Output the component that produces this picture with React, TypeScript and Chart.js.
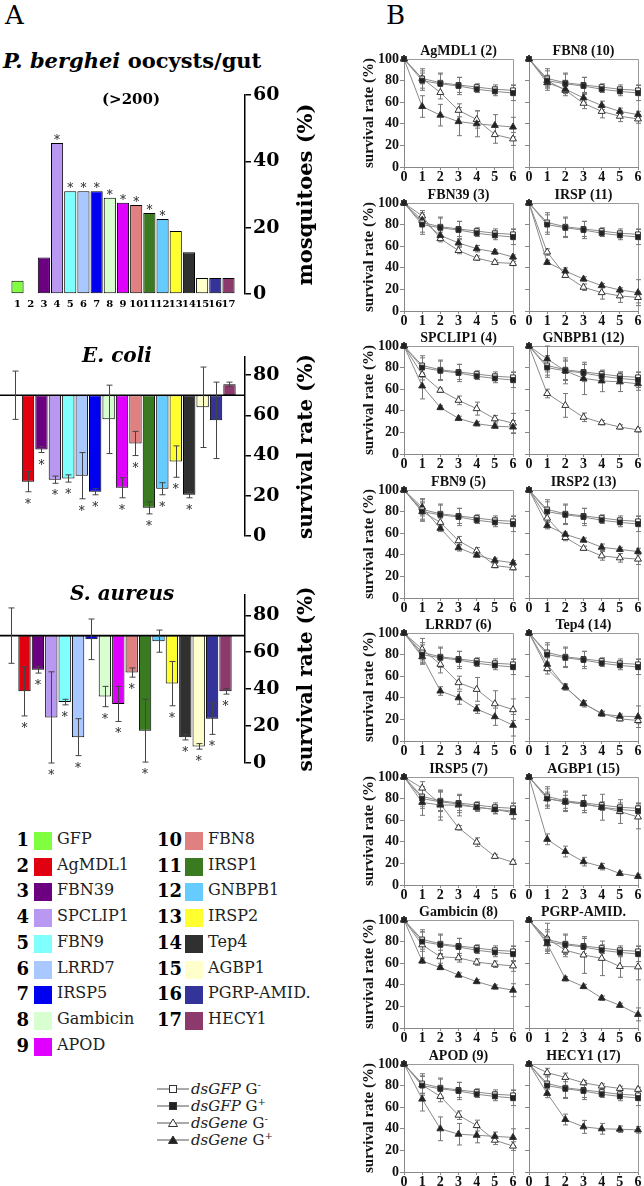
import React, { useEffect, useRef } from "react";
import { Chart, registerables } from "chart.js";

Chart.register(...registerables);

const WIDE = "'DejaVu Serif', serif";
const NARROW = "'Liberation Serif', 'Times New Roman', serif";

// ---------------- Panel A data ----------------
const GENE_NUMBERS = ["1", "2", "3", "4", "5", "6", "7", "8", "9", "10", "11", "12", "13", "14", "15", "16", "17"];
const GENE_NAMES = ["GFP", "AgMDL1", "FBN39", "SPCLIP1", "FBN9", "LRRD7", "IRSP5", "Gambicin", "APOD", "FBN8", "IRSP1", "GNBPB1", "IRSP2", "Tep4", "AGBP1", "PGRP-AMID.", "HECY1"];
const GENE_COLORS = ["#80ff40", "#e00010", "#6b0080", "#b898f0", "#80ffff", "#a8c8ff", "#0000f0", "#d8ffd0", "#e000ff", "#e08080", "#3a7a20", "#66ccff", "#ffff30", "#303030", "#ffffcc", "#333399", "#8b3a6b"];

const OOCYST_VALUES = [4, 0, 11, 45.5, 31, 31, 31, 29, 27.5, 26.8, 24.4, 22.6, 19, 12.6, 4.8, 4.8, 4.8];
const OOCYST_STARS = [4, 5, 6, 7, 8, 9, 10, 11, 12];
const OOCYST_TICKS = [0, 20, 40, 60];

const ECOLI_BASE = 70;
const ECOLI_VALUES = [70, 27, 43, 28, 28.6, 30, 22, 58, 24, 46, 14, 23.5, 37, 20.5, 64, 57.5, 75.5];
const ECOLI_ERRORS = [12, 5, 1.5, 1.8, 1.8, 11.5, 1.5, 17, 5, 6, 3, 3, 7.8, 1.5, 20, 19, 1];
const ECOLI_STARS = [2, 3, 4, 5, 6, 7, 9, 10, 11, 12, 13, 14];

const SAUREUS_BASE = 69;
const SAUREUS_VALUES = [69, 38.8, 50.5, 24.7, 33, 14, 67, 36, 32, 49, 17.5, 66, 43, 14, 9, 24, 38.8];
const SAUREUS_ERRORS = [15, 13.3, 1.8, 24.7, 1.5, 10, 11, 5.5, 9.5, 2.5, 17, 6, 12, 1.5, 1.5, 8.5, 1.5];
const SAUREUS_STARS = [2, 3, 4, 5, 6, 8, 9, 10, 11, 13, 14, 15, 16, 17];

const SURVIVAL_TICKS = [0, 20, 40, 60, 80];

// ---------------- Panel B data ----------------
const DAYS = [0, 1, 2, 3, 4, 5, 6];
const PERCENT_TICKS = [0, 20, 40, 60, 80, 100];
const SERIES_NAMES = ["dsGFP", "dsGFP", "dsGene", "dsGene"];
const SERIES_SIGNS = ["-", "+", "-", "+"];

const GFP_GNEG = [100, 82, 78, 76, 74, 72, 71];
const GFP_GNEG_ERR = [0, 9, 9, 7, 3, 4, 5];
const GFP_GPOS = [100, 80, 77, 75, 72, 70, 68.5];
const GFP_GPOS_ERR = [0, 9, 9, 8, 3, 4, 7];

const PANEL_TITLES = ["AgMDL1 (2)", "FBN8 (10)", "FBN39 (3)", "IRSP (11)", "SPCLIP1 (4)", "GNBPB1 (12)", "FBN9 (5)", "IRSP2 (13)", "LRRD7 (6)", "Tep4 (14)", "IRSP5 (7)", "AGBP1 (15)", "Gambicin (8)", "PGRP-AMID.", "APOD (9)", "HECY1 (17)"];

const GENE_GNEG = [
  [100, 82, 69, 52.5, 44, 30, 26],
  [100, 80, 71, 59, 51.5, 47, 44.5],
  [100, 88, 67, 56, 49, 45, 44],
  [100, 54.6, 33, 22, 17, 14, 12.5],
  [100, 73.6, 59, 49.7, 42, 32.6, 28.6],
  [100, 56, 45, 34, 29, 25, 22.4],
  [100, 80, 70, 53, 43.7, 30, 28],
  [100, 74, 56, 46, 39, 37.2, 36],
  [100, 85, 71, 54, 47.8, 34.5, 29],
  [100, 67, 50, 34.5, 25.7, 20.5, 19],
  [100, 89.7, 75, 53, 39.7, 26.5, 21],
  [100, 80, 77, 75, 72, 68, 63],
  [100, 77, 66, 65, 61, 59, 57.5],
  [100, 83, 72, 67.6, 64.5, 57, 56.6],
  [100, 80.5, 70, 52.6, 43, 29.4, 24],
  [100, 92, 87.6, 82.6, 79.6, 77.4, 76.5],
];
const GENE_GNEG_ERR = [
  [0, 5, 6, 6, 8, 8, 6],
  [0, 5, 5, 5, 6, 5, 4],
  [0, 5, 3, 3, 2, 2, 2],
  [0, 3, 2, 3, 6, 6, 5],
  [0, 5, 2, 4, 6, 3, 9],
  [0, 4, 11, 4, 2, 2, 2],
  [0, 8, 4, 4, 3, 2, 2],
  [0, 6, 3, 2, 4, 4, 5],
  [0, 10, 8, 6, 11, 12, 10],
  [0, 5, 3, 3, 2, 2, 3],
  [0, 6, 12, 2, 4, 2, 2],
  [0, 6, 6, 8, 12, 11, 11],
  [0, 12, 6, 4, 3, 3, 5],
  [0, 14, 6, 17, 16, 10, 12],
  [0, 8, 5, 4, 5, 4, 4],
  [0, 4, 4, 2, 2, 2, 2],
];
const GENE_GPOS = [
  [100, 56, 48, 42, 40, 38.5, 37],
  [100, 78, 72, 64, 57, 51.5, 48.5],
  [100, 84, 70, 63, 57.7, 54.6, 50],
  [100, 45, 37, 29.6, 23.5, 19.5, 17],
  [100, 63, 43, 33, 28, 25.8, 25],
  [100, 88, 77, 70, 67.7, 66.8, 65],
  [100, 84, 64.5, 46.5, 39.7, 35, 32.6],
  [100, 67, 59, 53.6, 47, 45, 43],
  [100, 78, 46.3, 40, 29.6, 22.5, 14.6],
  [100, 71, 50, 35, 25, 23, 22.5],
  [100, 76.5, 74, 74, 72, 70, 67],
  [100, 42.3, 31, 21.6, 17, 10.7, 8],
  [100, 62, 56, 49, 43, 38, 35],
  [100, 78, 45.6, 38.4, 27.7, 21, 12.6],
  [100, 67.5, 40, 35, 34, 33, 32],
  [100, 72.8, 48.6, 41.8, 40, 39.6, 39],
];
const GENE_GPOS_ERR = [
  [0, 10, 10, 13, 12, 10, 9],
  [0, 4, 4, 4, 4, 3, 3],
  [0, 5, 3, 3, 3, 2, 2],
  [0, 2, 3, 2, 2, 2, 12],
  [0, 12, 2, 2, 2, 2, 6],
  [0, 12, 12, 15, 10, 9, 6],
  [0, 8, 3, 3, 2, 2, 2],
  [0, 3, 2, 2, 3, 2, 3],
  [0, 6, 4, 6, 4, 8, 10],
  [0, 6, 2, 2, 2, 2, 10],
  [0, 12, 14, 10, 4, 4, 6],
  [0, 5, 5, 4, 3, 2, 2],
  [0, 2, 2, 2, 2, 2, 6],
  [0, 6, 2, 2, 2, 2, 6],
  [0, 11, 11, 10, 7, 4, 8],
  [0, 4, 5, 6, 5, 3, 3],
];

// ---------------- generic canvas ----------------
function CanvasChart(props: { left: number; top: number; width: number; height: number; config: () => any }) {
  const ref = useRef<HTMLCanvasElement | null>(null);
  useEffect(() => {
    if (!ref.current) return;
    const chart = new Chart(ref.current, props.config());
    return () => chart.destroy();
  }, []);
  const { left, top, width, height } = props;
  return (
    <canvas
      ref={ref}
      width={width}
      height={height}
      style={{ position: "absolute", left, top, width, height }}
    />
  );
}

type BarSpec = {
  values: number[];
  base: number;
  errors: number[] | null;
  stars: number[];
  yMax: number;
  yTicks: number[];
  xMin: number;
  xMax: number;
  showX: boolean;
  padTop: number;
  padBottom: number;
  axisTitle: string;
  titleSize: number;
  baseline: boolean;
};

function makeBarConfig(spec: BarSpec) {
  const { values, base, errors, stars, yMax, yTicks, xMin, xMax, showX, padTop, padBottom, axisTitle, titleSize, baseline } = spec;
  const extras = {
    id: "barExtras",
    afterDatasetsDraw(chart: any) {
      const { ctx, chartArea, scales } = chart;
      const x = scales.x;
      const y = scales.y;
      ctx.save();
      if (baseline) {
        const by = y.getPixelForValue(base);
        ctx.strokeStyle = "#000";
        ctx.lineWidth = 1.6;
        ctx.beginPath();
        ctx.moveTo(chartArea.left, by);
        ctx.lineTo(chartArea.right, by);
        ctx.stroke();
      }
      if (errors) {
        ctx.strokeStyle = "#444";
        ctx.lineWidth = 1;
        values.forEach((v, i) => {
          const e = errors[i];
          if (!e) return;
          const px = Math.round(x.getPixelForValue(i + 1)) + 0.5;
          const y1 = y.getPixelForValue(v + e);
          const y2 = y.getPixelForValue(Math.max(0, v - e));
          ctx.beginPath();
          ctx.moveTo(px, y1);
          ctx.lineTo(px, y2);
          ctx.moveTo(px - 3, y1);
          ctx.lineTo(px + 3, y1);
          ctx.moveTo(px - 3, y2);
          ctx.lineTo(px + 3, y2);
          ctx.stroke();
        });
      }
      ctx.fillStyle = "#222";
      ctx.font = `12px ${WIDE}`;
      ctx.textAlign = "center";
      ctx.textBaseline = "alphabetic";
      stars.forEach((n) => {
        const i = n - 1;
        const v = values[i];
        const px = x.getPixelForValue(n);
        const yy = errors ? y.getPixelForValue(Math.max(0, v - errors[i])) + 16 : y.getPixelForValue(v) + 1;
        ctx.fillText("*", px, yy);
      });
      ctx.translate(chartArea.right + 62, (chartArea.top + chartArea.bottom) / 2);
      ctx.rotate(-Math.PI / 2);
      ctx.font = `bold ${titleSize}px ${WIDE}`;
      ctx.fillStyle = "#000";
      ctx.textBaseline = "middle";
      ctx.fillText(axisTitle, 0, 0);
      ctx.restore();
    },
  };
  return {
    type: "bar",
    data: {
      datasets: [
        {
          data: values.map((v, i) => ({ x: i + 1, y: [base, v] })),
          backgroundColor: GENE_COLORS,
          borderColor: "#000",
          borderWidth: 1,
          borderSkipped: false,
          barPercentage: 0.92,
          categoryPercentage: 1,
        },
      ],
    },
    options: {
      animation: false,
      responsive: false,
      events: [],
      layout: { padding: { top: padTop, bottom: padBottom, left: 0, right: 0 } },
      plugins: { legend: { display: false }, tooltip: { enabled: false } },
      scales: {
        x: {
          type: "linear",
          min: xMin,
          max: xMax,
          offset: false,
          display: showX,
          grid: { display: false, offset: false, drawTicks: false },
          border: { display: false },
          afterBuildTicks: (s: any) => {
            s.ticks = GENE_NUMBERS.map((_, i) => ({ value: i + 1 }));
          },
          afterFit: (s: any) => {
            s.height = 20;
          },
          ticks: {
            autoSkip: false,
            maxRotation: 0,
            padding: 4,
            color: "#000",
            font: { family: WIDE, size: 10, weight: "bold" },
            callback: (v: number) => GENE_NUMBERS[Math.round(v) - 1] ?? "",
          },
        },
        y: {
          position: "right",
          min: 0,
          max: yMax,
          afterBuildTicks: (s: any) => {
            s.ticks = yTicks.map((v) => ({ value: v }));
          },
          afterFit: (s: any) => {
            s.width = 85;
          },
          grid: { drawOnChartArea: false, drawTicks: true, tickLength: 6, color: "#000", lineWidth: 1.5 },
          border: { display: true, color: "#000", width: 1.5 },
          ticks: { padding: 2, color: "#000", font: { family: WIDE, size: 19, weight: "bold" } },
        },
      },
    },
    plugins: [extras],
  };
}

function makeLineConfig(k: number, isLeft: boolean) {
  const series = [
    { data: GFP_GPOS, err: GFP_GPOS_ERR, style: "rect", fill: "#222", r: 3.4 },
    { data: GFP_GNEG, err: GFP_GNEG_ERR, style: "rect", fill: "#fff", r: 3.4 },
    { data: GENE_GPOS[k], err: GENE_GPOS_ERR[k], style: "triangle", fill: "#222", r: 4 },
    { data: GENE_GNEG[k], err: GENE_GNEG_ERR[k], style: "triangle", fill: "#fff", r: 4 },
  ];
  const extras = {
    id: "lineExtras",
    beforeDatasetsDraw(chart: any) {
      const { ctx, chartArea, scales } = chart;
      const x = scales.x;
      const y = scales.y;
      ctx.save();
      ctx.strokeStyle = "#9a9a9a";
      ctx.lineWidth = 1;
      ctx.beginPath();
      ctx.moveTo(chartArea.left, Math.round(chartArea.top) + 0.5);
      ctx.lineTo(Math.round(chartArea.right) + 0.5, Math.round(chartArea.top) + 0.5);
      ctx.lineTo(Math.round(chartArea.right) + 0.5, chartArea.bottom);
      ctx.stroke();
      ctx.strokeStyle = "#777";
      series.forEach((s) => {
        s.data.forEach((v, i) => {
          const e = s.err[i];
          if (!e) return;
          const px = Math.round(x.getPixelForValue(DAYS[i])) + 0.5;
          const y1 = y.getPixelForValue(v + e);
          const y2 = y.getPixelForValue(Math.max(0, v - e));
          ctx.beginPath();
          ctx.moveTo(px, y1);
          ctx.lineTo(px, y2);
          ctx.moveTo(px - 2.5, y1);
          ctx.lineTo(px + 2.5, y1);
          ctx.moveTo(px - 2.5, y2);
          ctx.lineTo(px + 2.5, y2);
          ctx.stroke();
        });
      });
      ctx.restore();
    },
    afterDraw(chart: any) {
      const { ctx, chartArea } = chart;
      ctx.save();
      ctx.font = `bold 14px ${NARROW}`;
      ctx.fillStyle = "#111";
      ctx.textAlign = "center";
      ctx.textBaseline = "alphabetic";
      ctx.fillText(PANEL_TITLES[k], (chartArea.left + chartArea.right) / 2, chartArea.top - 4);
      ctx.restore();
    },
  };
  return {
    type: "line",
    data: {
      datasets: series.map((s, si) => ({
        label: `${SERIES_NAMES[si]} G${SERIES_SIGNS[si]}`,
        data: DAYS.map((d, i) => ({ x: d, y: s.data[i] })),
        borderColor: "#8a8a8a",
        borderWidth: 1,
        tension: 0,
        fill: false,
        clip: false,
        pointStyle: s.style,
        pointRadius: s.r,
        pointBackgroundColor: s.fill,
        pointBorderColor: "#333",
        pointBorderWidth: 1,
      })),
    },
    options: {
      animation: false,
      responsive: false,
      events: [],
      layout: { padding: { top: 22, bottom: 0, left: 0, right: 6 } },
      plugins: { legend: { display: false }, tooltip: { enabled: false } },
      scales: {
        x: {
          type: "linear",
          min: 0,
          max: 6,
          offset: false,
          afterBuildTicks: (s: any) => {
            s.ticks = DAYS.map((v) => ({ value: v }));
          },
          afterFit: (s: any) => {
            s.height = 20;
          },
          grid: { drawOnChartArea: false, drawTicks: true, tickLength: 3, color: "#888" },
          border: { display: true, color: "#888" },
          ticks: { padding: 0, maxRotation: 0, autoSkip: false, color: "#111", font: { family: NARROW, size: 14, weight: "bold", lineHeight: 1 } },
        },
        y: {
          min: 0,
          max: 100,
          afterBuildTicks: (s: any) => {
            s.ticks = PERCENT_TICKS.map((v) => ({ value: v }));
          },
          afterFit: (s: any) => {
            s.width = isLeft ? 66 : 10;
          },
          grid: { drawOnChartArea: false, drawTicks: true, tickLength: 4, color: "#888" },
          border: { display: true, color: "#888" },
          ticks: { display: isLeft, padding: 1, color: "#111", font: { family: NARROW, size: 14, weight: "bold" } },
          title: {
            display: isLeft,
            text: "survival rate (%)",
            color: "#111",
            font: { family: NARROW, size: 15, weight: "bold" },
            padding: { top: 22, bottom: 0 },
          },
        },
      },
    },
    plugins: [extras],
  };
}

const ROW_TOPS = [59, 203, 346, 490, 633, 777, 920, 1064];

function LegendMarker({ idx }: { idx: number }) {
  const filled = idx % 2 === 1;
  const tri = idx >= 2;
  const fill = filled ? "#222" : "#fff";
  return (
    <svg width={32} height={12} style={{ display: "block" }}>
      <line x1={0} y1={6} x2={32} y2={6} stroke="#555" strokeWidth={1} />
      {tri ? (
        <polygon points="16,2 20.5,9.5 11.5,9.5" fill={fill} stroke="#333" strokeWidth={1} />
      ) : (
        <rect x={12.5} y={2.5} width={7} height={7} fill={fill} stroke="#333" strokeWidth={1} />
      )}
    </svg>
  );
}

export default function App() {
  const abs = (o: any) => ({ position: "absolute" as const, ...o });
  return (
    <div style={{ position: "absolute", left: 0, top: 0, width: 644, height: 1186, overflow: "hidden", background: "#fff" }}>
      <CanvasChart
        left={0}
        top={80}
        width={330}
        height={234}
        config={() =>
          makeBarConfig({
            values: OOCYST_VALUES,
            base: 0,
            errors: null,
            stars: OOCYST_STARS,
            yMax: 60,
            yTicks: OOCYST_TICKS,
            xMin: -0.327,
            xMax: 18.25,
            showX: true,
            padTop: 15,
            padBottom: 0,
            axisTitle: "mosquitoes (%)",
            titleSize: 21,
            baseline: false,
          })
        }
      />
      <CanvasChart
        left={0}
        top={340}
        width={330}
        height={235}
        config={() =>
          makeBarConfig({
            values: ECOLI_VALUES,
            base: ECOLI_BASE,
            errors: ECOLI_ERRORS,
            stars: ECOLI_STARS,
            yMax: 89,
            yTicks: SURVIVAL_TICKS,
            xMin: -0.087,
            xMax: 18.155,
            showX: false,
            padTop: 17,
            padBottom: 19,
            axisTitle: "survival rate (%)",
            titleSize: 20,
            baseline: true,
          })
        }
      />
      <CanvasChart
        left={0}
        top={578}
        width={330}
        height={230}
        config={() =>
          makeBarConfig({
            values: SAUREUS_VALUES,
            base: SAUREUS_BASE,
            errors: SAUREUS_ERRORS,
            stars: SAUREUS_STARS,
            yMax: 91,
            yTicks: SURVIVAL_TICKS,
            xMin: 0.172,
            xMax: 18.455,
            showX: false,
            padTop: 17,
            padBottom: 25,
            axisTitle: "survival rate (%)",
            titleSize: 20,
            baseline: true,
          })
        }
      />
      {PANEL_TITLES.map((_, k) => {
        const row = Math.floor(k / 2);
        const isLeft = k % 2 === 0;
        return (
          <CanvasChart
            key={k}
            left={isLeft ? 338 : 519}
            top={ROW_TOPS[row] - 22}
            width={isLeft ? 181 : 125}
            height={150}
            config={() => makeLineConfig(k, isLeft)}
          />
        );
      })}

      <div style={abs({ left: 5, top: 0, font: `26px ${WIDE}` })}>A</div>
      <div style={abs({ left: 386, top: 0, font: `26px ${WIDE}` })}>B</div>
      <div style={abs({ left: 3, top: 48, font: `bold 21px ${WIDE}`, whiteSpace: "nowrap" })}>
        <i>P. berghei</i> oocysts/gut
      </div>
      <div style={abs({ left: 102, top: 90, font: `bold 15px ${WIDE}` })}>(&gt;200)</div>
      <div style={abs({ left: 82, top: 343, font: `italic bold 20px ${WIDE}` })}>E. coli</div>
      <div style={abs({ left: 70, top: 581, font: `italic bold 20px ${WIDE}` })}>S. aureus</div>

      {GENE_NAMES.map((name, i) => {
        const col = i < 9 ? 0 : 1;
        const row = col ? i - 9 : i;
        const cy = 841 + 25.7 * row;
        const numRight = col ? 182 : 29;
        const swLeft = col ? 185 : 34;
        const labLeft = col ? 208 : 57;
        return (
          <React.Fragment key={i}>
            <div
              style={abs({
                left: numRight - 40,
                width: 40,
                top: cy - 12,
                height: 24,
                lineHeight: "24px",
                textAlign: "right",
                font: `bold 18px ${WIDE}`,
              })}
            >
              {GENE_NUMBERS[i]}
            </div>
            <div style={abs({ left: swLeft, top: cy - 9, width: 18, height: 18, background: GENE_COLORS[i] })} />
            <div
              style={abs({
                left: labLeft,
                top: cy - 12,
                height: 24,
                lineHeight: "24px",
                font: `16px ${WIDE}`,
                color: "#222",
                whiteSpace: "nowrap",
              })}
            >
              {name}
            </div>
          </React.Fragment>
        );
      })}

      {SERIES_NAMES.map((name, i) => (
        <div
          key={i}
          style={abs({ left: 157, top: 1089 + 17 * i - 9, height: 18, display: "flex", alignItems: "center", whiteSpace: "nowrap" })}
        >
          <LegendMarker idx={i} />
          <span style={{ marginLeft: 2, font: `15px ${WIDE}`, color: "#222", lineHeight: "18px" }}>
            <i>{name}</i> G<sup style={{ fontSize: 10, lineHeight: 0 }}>{SERIES_SIGNS[i]}</sup>
          </span>
        </div>
      ))}
    </div>
  );
}
